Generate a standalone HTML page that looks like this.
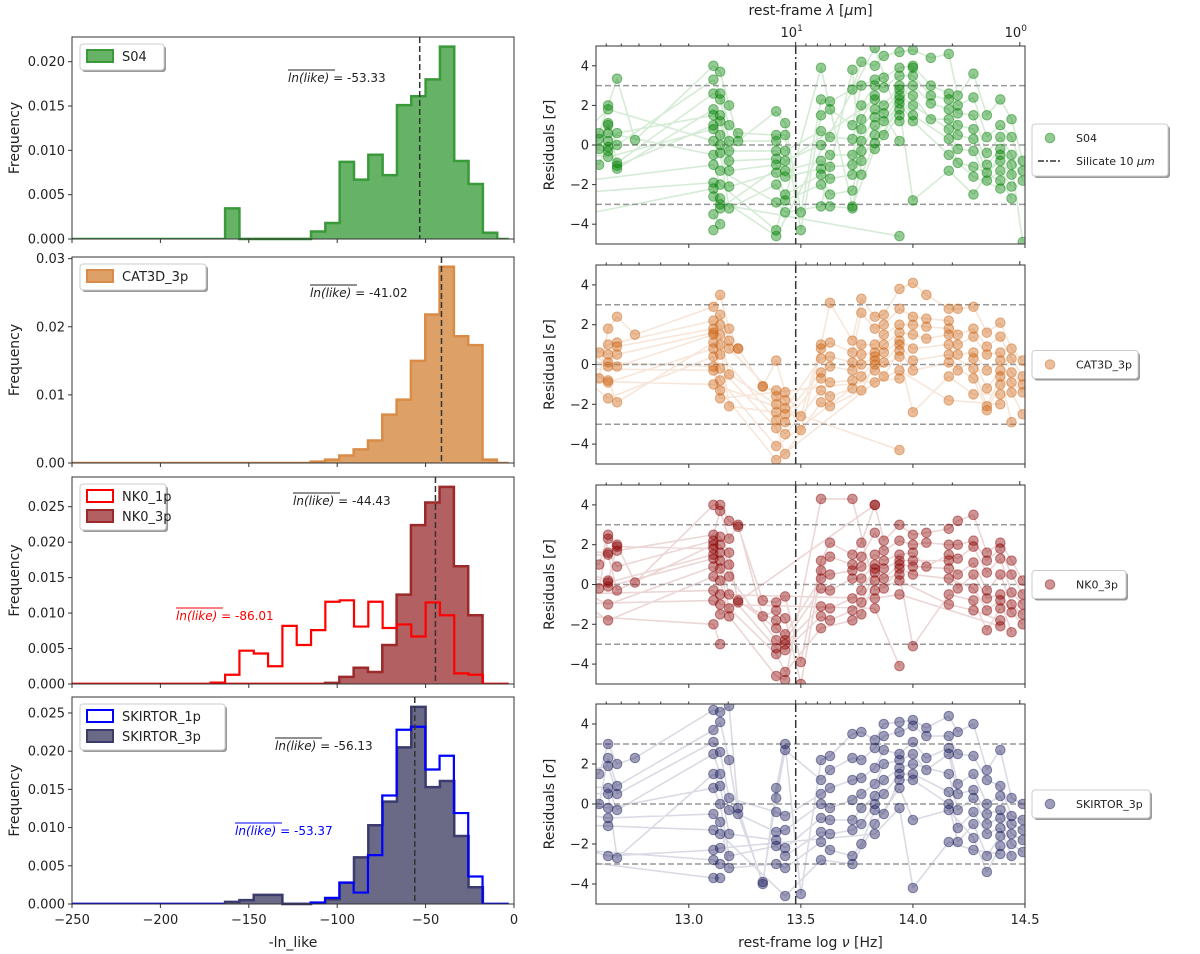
<!DOCTYPE html>
<html><head><meta charset="utf-8"><style>
html,body{margin:0;padding:0;background:#fff}
svg{display:block;font-family:"DejaVu Sans","Liberation Sans",sans-serif}
</style></head><body>
<svg id="fig" width="1200" height="954" viewBox="0 0 1200 954" xmlns="http://www.w3.org/2000/svg"></svg>
<script>
// ---------- LEFT: histogram data ----------
const binWidth = 8.1;
const s04Start = -163.4;
const s04Freq = [0.00345,0,0,0,0,0,0.00085,0.0018,0.0087,0.0067,0.0095,0.0072,0.0151,0.0161,0.018,0.0217,0.0088,0.0062,0.0007];
const cat3dStart = -115;
const cat3dFreq = [0.0002,0.0005,0.0011,0.002,0.0033,0.0071,0.0093,0.015,0.0218,0.0288,0.0186,0.0173,0.0005];
const nk03Start = -106.9;
const nk03Freq = [0.00015,0.001,0.0023,0.0017,0.0055,0.0126,0.0224,0.0256,0.0278,0.0166,0.0097];
const nk01Start = -171.5;
const nk01Freq = [0.0002,0.0013,0.0047,0.0043,0.0025,0.0082,0.0055,0.0076,0.0116,0.0118,0.0081,0.0116,0.0079,0.0084,0.0067,0.0115,0.0097,0.0015,0.0013];
const sk3Start = -163.4;
const sk3Freq = [0.00027,0.0005,0.0012,0.0012,0,0,0.0001,0.0006,0.0028,0.0061,0.0103,0.0134,0.0205,0.0258,0.0153,0.0161,0.0089,0.0022];
const sk1Start = -115;
const sk1Freq = [0.0002,0.0008,0.0028,0.0015,0.0064,0.0142,0.0228,0.0232,0.0176,0.0194,0.0119,0.0036];
const meanValues = [-53.33,-41.02,-44.43,-56.13];
const xTicksLeft = [-250,-200,-150,-100,-50,0];
const yTicksP1 = [0,0.005,0.01,0.015,0.02];
const yTicksP2 = [0,0.01,0.02,0.03];
const yTicksP3 = [0,0.005,0.01,0.015,0.02,0.025];
const yTicksP4 = [0,0.005,0.01,0.015,0.02,0.025];

// ---------- RIGHT: residual data (bands in log nu, residual lists per band) ----------
const bandsS04 = [12.4,12.6,12.64,12.68,12.76,13.11,13.14,13.18,13.22,13.39,13.43,13.5,13.59,13.63,13.73,13.77,13.83,13.87,13.94,14.0,14.08,14.16,14.2,14.27,14.33,14.39,14.44,14.49];
const resS04 = [[1.5,1.2,0.9,0.5,0.2,0,-0.3,-0.8,-1.3,-2,-2.5,-3.8],[0.6,-0.2,0.3,-1.0],[2.0,1.1,1.0,0.2,-0.1,-0.3,-0.6,1.8,0.6],[3.35,0,-0.9,-1.2,0.6,-1.05],[0.25],
[4.0,3.3,2.6,1.8,1.5,1.0,0.8,0.2,-0.5,-1.0,-1.9,-2.2,-2.6,-3.5,-4.3],[3.7,2.6,2.3,1.5,1.2,0.5,0,-0.4,-1.3,-2.0,-2.7,-3.2,-3.0,-4.0],[2.0,1.0,0.2,-0.3,-0.8,-1.3,-2.1,-3.2],[0.2,0.6],
[1.7,0.5,0.2,-0.3,-0.7,-1.0,-1.4,-2.0,-2.9,-4.3,-4.6],[1.1,0.5,-0.3,-0.8,-1.3,-1.6,-2.5,-2.8,-3.4],[-3.4,-4.3],
[2.3,1.5,0.7,0,-0.8,-1.2,-1.5,-2.0,-3.1,3.9],[2.2,1.8,0.4,-0.5,-1.1,-1.7,-2.5,-3.1],[2.8,1.0,0.3,-0.5,-1.0,-1.5,-2.3,-3.2,3.8,-3.1],[4.2,3.0,2.0,1.3,0.8,0.2,-0.3,-0.8,-1.5],
[4.0,3.3,3.0,2.5,1.8,1.4,1.0,0.5,0.1,-0.2,4.9,2.3],[4.5,3.4,2.9,2.0,1.6,1.2,0.5],[4.7,3.9,3.5,3.0,2.8,2.5,2.3,2.1,1.8,1.5,1.2,0.2,-4.6],[4.8,4.0,3.5,3.0,2.5,2.0,1.5,1.2,-2.8,3.9],
[4.4,3.0,2.5,2.1,1.3],[4.6,2.6,2.3,1.8,1.3,0.8,0.3,-0.5,-1.3],[2.5,2.0,1.6,1.0,0.5,-0.2,-0.9],[3.6,2.4,1.5,0.8,0.3,-0.3,-1.1,-1.6,-2.5],[1.5,0.4,-0.4,-1.0,-1.4,-1.8],
[2.3,1.0,0.4,-0.2,-0.8,-1.3,-1.8,-2.2,-0.5],[1.3,0.4,-0.5,-1.0,-1.5,-2.1,-2.7],[-0.8,-1.3,-1.8,-4.9]];

const bandsCAT = [12.4,12.6,12.64,12.68,12.76,13.11,13.14,13.18,13.22,13.33,13.39,13.43,13.5,13.59,13.63,13.73,13.77,13.83,13.87,13.94,14.0,14.06,14.16,14.2,14.27,14.33,14.39,14.44,14.49];
const resCAT = [[2.2,1.8,1.5,1.2,1.0,0.8,0.7,0.5,0.2,-0.2,-0.8,-1.5],[-0.7,0.6],[1.8,1.0,0.5,0.1,-0.1,-0.8,-0.9,-1.7],[2.4,1.1,0.9,0.5,-0.1,-1.9],[1.5],
[2.9,2.2,1.8,1.6,1.5,1.1,0.8,0.4,-0.1,-0.3,-1.0],[3.5,2.5,2.0,1.5,1.0,0.5,-0.2,-0.8,-1.3,-1.7],[1.8,1.2,0.8,-0.5,-2.1],[0.8,0.8],[-1.1,-1.1],
[0.2,-1.3,-1.6,-2.0,-2.4,-2.8,-3.2,-4.1,-4.8],[-1.4,-1.8,-2.2,-2.5,-2.9,-3.5,-4.5],[-2.6,-3.3],
[1.0,0.8,0.3,-0.4,-0.7,-1.3,-1.9],[3.1,1.1,0.4,-0.1,-0.9,-1.6,-2.1],[1.2,0.6,0.1,-0.3,-0.8,-1.2],[3.3,2.6,1.0,0.5,0,-0.6,-1.3],
[2.4,1.8,1.0,0.6,0.4,0.2,0,-0.3,-0.9],[2.5,2.0,1.5,1.0,0.6,0.1,-0.6],[3.8,2.8,2.0,1.6,1.2,1.0,0.7,0.4,-0.3,-0.7,-4.3],[4.1,2.4,2.0,1.5,0.8,0.2,-0.3,-2.4],
[3.5,2.3,1.9,1.3],[2.8,2.2,1.8,1.5,1.0,0.5,0.1,-0.6,-1.8],[2.8,1.5,1.0,0.5,-0.3],[2.9,1.8,1.4,0.6,0.3,-0.2,-0.7,-1.5],[1.6,0.9,0.5,-0.3,-1.2,-2.1,-2.3],
[2.1,1.4,0.6,0.2,-0.3,-0.6,-1.0,-1.5,-2.0],[0.8,0.3,-0.4,-0.9,-1.4,-2.9],[0.2,-0.6,-1.0,-1.4,-2.5]];

const bandsNK0 = [12.4,12.6,12.64,12.68,12.76,13.11,13.14,13.18,13.22,13.33,13.39,13.43,13.5,13.59,13.63,13.73,13.77,13.83,13.87,13.94,14.0,14.06,14.16,14.2,14.27,14.33,14.39,14.44,14.49];
const resNK0 = [[2.5,2.0,1.7,1.4,1.2,0.9,0.6,0.3,0,-0.5,-1.0,-1.5],[-0.2,1.0],[2.3,2.5,1.6,1.5,0.2,0.1,-0.1,-1.0,-1.8],[2.0,1.7,0.9,-0.3,1.9],[0.1],
[4.0,2.5,2.2,2.0,1.8,1.5,1.3,0.9,0.4,-0.3,-0.8,-2.0],[4.0,3.7,2.4,2.0,1.6,1.2,0.8,0.2,-0.5,-1.0,-1.5,-3.0],[3.2,2.3,1.6,1.0,0.4,-0.5,-1.2,-1.6],[2.9,3.0,-0.9,-0.8],[-0.8,-1.6],
[-0.9,-1.3,-1.8,-2.2,-2.8,-3.2,-3.5,-4.6],[-0.6,-1.7,-2.5,-2.8,-3.0,-3.3,-4.4,-4.8],[-3.9,-5.0],
[1.2,0.7,0.3,-0.2,-1.1,-1.6,-2.2,4.3],[2.1,1.4,0.5,-0.3,-1.2,-1.8],[1.5,1.0,0.7,0.3,-0.7,-1.3,-1.8,4.3],[2.1,1.4,0.9,0.3,-0.3,-0.9,-1.5],
[4.0,2.6,1.5,1.0,0.8,0.6,0.2,-0.3,-0.7,-1.2,4.0],[2.2,1.7,1.2,0.8,0.3,-0.2],[3.0,2.2,1.5,1.2,1.0,0.8,0.5,0.2,-0.5,-4.1],[2.5,2.0,1.6,1.2,0.9,0.5,-3.1],
[2.6,2.1,0.9],[2.8,2.0,1.5,1.2,0.8,0.3,-0.5,-1.0],[3.2,2.0,1.3,0.5,-0.2],[3.5,2.2,1.9,1.1,0.5,-0.2,-0.8,-1.3],[1.6,1.2,0.6,-0.3,-0.7,-1.3,-2.3],
[2.1,1.8,1.3,0.5,-0.5,-0.8,-1.2,-1.8,-2.1],[1.2,0.5,-0.4,-1.0,-1.4,-2.4],[0.2,-0.5,-1.0,-1.5,-2.0]];

const bandsSK = [12.4,12.6,12.64,12.68,12.76,13.11,13.14,13.18,13.22,13.33,13.39,13.43,13.5,13.59,13.63,13.73,13.77,13.83,13.87,13.94,14.0,14.06,14.16,14.2,14.27,14.33,14.39,14.44,14.49];
const resSK = [[2.0,1.6,1.3,1.0,0.6,0.2,-0.3,-1.0,-1.8,-2.2,-2.7,-3.2],[1.5,0.0],[3.0,2.3,1.9,0.8,0.5,-0.2,-0.7,-1.1,-2.6],[2.0,0.9,0.5,-0.3,-2.7],[2.3],
[4.7,3.7,3.1,2.5,1.5,0.8,-0.5,-1.3,-2.3,-2.8,-3.7],[4.6,4.1,2.6,1.5,0.9,0.0,-0.9,-1.5,-2.2,-3.0,-3.7],[4.9,2.2,0.3,-0.3,-1.5,-2.6,-3.2],[-0.2,-0.5],[-4.0,-3.9],
[0.8,0.3,-0.4,-1.4,-1.8,-2.1,-3.0],[3.0,2.7,-0.6,-1.3,-2.2,-2.6,-3.2,-4.6],[-4.5],
[2.2,1.2,0.5,0,-0.7,-1.4,-1.9,-2.8],[2.4,1.7,0.8,-0.2,-0.8,-1.5,-2.3],[3.5,2.3,1.2,0.2,-0.8,-1.3,-2.6,-3.0],[3.6,2.2,1.3,0.5,-0.2,-1.0,-2.0],
[3.2,2.8,1.8,1.0,0.4,0.0,-0.3,-1.0,-1.5],[4.0,3.4,2.7,2.0,1.2,0.5,-0.5],[4.1,3.6,2.5,2.2,1.8,1.5,1.2,0.8,-0.2],[4.2,3.9,3.1,2.5,2.0,1.5,1.2,-0.8,-4.2],
[3.8,3.4,2.3,1.7],[4.4,3.4,2.8,2.5,1.5,0.6,0,-0.3,-1.9],[3.6,2.5,1.0,0.5,-0.3,-1.2,-1.9],[4.0,2.4,1.5,0.7,0.3,-0.4,-1.0,-1.7,-2.3],[1.7,1.2,0.0,-0.5,-1.0,-1.5,-2.6,-3.4],
[2.7,0.9,0.4,-0.3,-0.7,-1.2,-1.6,-2.1,-2.5],[0.3,-0.6,-1.0,-1.5,-2.0,-2.6],[0,-0.8,-1.3,-1.8,-2.4]];

const xTicksRight = [13.0,13.5,14.0,14.5];
const yTicksRight = [-4,-2,0,2,4];
const hLines = [-3,0,3];
const silicateLogNu = 13.477;

// ---------- helpers ----------
const NS = "http://www.w3.org/2000/svg";
const svg = document.getElementById('fig');
function mk(tag, attrs, parent){
  const e = document.createElementNS(NS, tag);
  for (const k in attrs) e.setAttribute(k, attrs[k]);
  (parent||svg).appendChild(e);
  return e;
}
function txt(s, attrs, parent){ const t = mk('text', attrs, parent); t.textContent = s; return t; }

const LX0 = 72, LX1 = 514;
const leftPanels = [[37,239],[257,463],[477,684],[697,904]];
const RX0 = 596, RX1 = 1025;
const rightPanels = [[46,244],[265,464],[485,684],[704,904]];
const xLeft = v => LX0 + (v + 250) / 250 * (LX1 - LX0);
const NU0 = 12.586, NU1 = 14.5;
const xRight = v => RX0 + (v - NU0) / (NU1 - NU0) * (RX1 - RX0);

// ---------- left histogram panels ----------
function histPath(start, freq, yS){
  let d = `M${xLeft(start)},${yS(0)}`;
  freq.forEach((f,i)=>{
    const a = xLeft(start + i*binWidth), b = xLeft(start + (i+1)*binWidth);
    d += ` L${a},${yS(f)} L${b},${yS(f)}`;
  });
  d += ` L${xLeft(start + freq.length*binWidth)},${yS(0)}`;
  return d;
}
const leftSpec = [
  {series:[{name:'S04',start:s04Start,freq:s04Freq,fill:'#66b266',stroke:'#3a9a3a',w:2.5}], ticks:yTicksP1, dec:3,
   ann:[{x:288,y:82,color:'#222',v:'-53.33'}], legend:{w:84,h:26}},
  {series:[{name:'CAT3D_3p',start:cat3dStart,freq:cat3dFreq,fill:'#dda167',stroke:'#d98c48',w:2.5}], ticks:yTicksP2, dec:2,
   ann:[{x:310,y:297,color:'#222',v:'-41.02'}], legend:{w:126,h:26}},
  {series:[{name:'NK0_3p',start:nk03Start,freq:nk03Freq,fill:'#b36063',stroke:'#9c2a2a',w:2.5},
           {name:'NK0_1p',start:nk01Start,freq:nk01Freq,fill:'none',stroke:'#ff0000',w:2.2}], ticks:yTicksP3, dec:3,
   ann:[{x:293,y:505,color:'#222',v:'-44.43'},{x:176,y:620,color:'#ff0000',v:'-86.01'}], legend:{w:86,h:46}},
  {series:[{name:'SKIRTOR_3p',start:sk3Start,freq:sk3Freq,fill:'#6a6a86',stroke:'#3b3b6e',w:2.5},
           {name:'SKIRTOR_1p',start:sk1Start,freq:sk1Freq,fill:'none',stroke:'#0000ff',w:2.2}], ticks:yTicksP4, dec:3,
   ann:[{x:275,y:750,color:'#222',v:'-56.13'},{x:235,y:835,color:'#0000ff',v:'-53.37'}], legend:{w:145,h:46}}
];
leftSpec.forEach((sp, pi)=>{
  const [t,b] = leftPanels[pi];
  let mx = 0; sp.series.forEach(s=>s.freq.forEach(f=>{ if(f>mx) mx=f; }));
  const ymax = mx*1.05;
  const yS = v => b - v/ymax*(b-t);
  const g = mk('g',{});
  
  
  sp.series.forEach(s=>{
    mk('line',{x1:LX0,y1:b-0.5,x2:xLeft(-3),y2:b-0.5,stroke:s.stroke,'stroke-width':1.5},g);
  });
  sp.series.forEach(s=>{
    const p = mk('path',{d:histPath(s.start,s.freq,yS), fill:s.fill, stroke:s.stroke,'stroke-width':s.w,'stroke-linejoin':'miter'},g);
    
    
  });
  const mxp = xLeft(meanValues[pi]);
  const ml = mk('line',{x1:mxp,y1:t,x2:mxp,y2:b,stroke:'#333','stroke-width':1.5,'stroke-dasharray':'6,3'},g);
  
  
  mk('rect',{x:LX0,y:t,width:LX1-LX0,height:b-t,fill:'none',stroke:'#333','stroke-width':1},g);
  sp.ticks.forEach(v=>{
    const y = yS(v);
    mk('line',{x1:LX0-4,y1:y,x2:LX0,y2:y,stroke:'#333'},g);
    const lab = txt(v.toFixed(sp.dec),{x:LX0-7,y:y+4.5,'text-anchor':'end','font-size':13,fill:'#222'},g);
    
    
  });
  xTicksLeft.forEach(v=>{
    const x = xLeft(v);
    mk('line',{x1:x,y1:b,x2:x,y2:b+4,stroke:'#333'},g);
    if (pi===3){
      const lab = txt(v<0?'\u2212'+Math.abs(v):String(v),{x:x,y:b+20,'text-anchor':'middle','font-size':13,fill:'#222'},g);
      
      
    }
  });
  const yl = txt('Frequency',{x:0,y:0,transform:`translate(19,${(t+b)/2}) rotate(-90)`,'text-anchor':'middle','font-size':14,fill:'#222'},g);
  
  
  sp.ann.forEach(a=>{
    const tt = txt('',{x:a.x,y:a.y,'font-size':12,fill:a.color},g);
    
    
    const s1 = mk('tspan',{'font-style':'italic'},tt); s1.textContent='ln(like)';
    const s2 = mk('tspan',{},tt); s2.textContent=' = '+a.v;
    mk('line',{x1:a.x,y1:a.y-12,x2:a.x+47,y2:a.y-12,stroke:a.color,'stroke-width':0.9},g);
  });
  const lg = mk('g',{},g);
  
  
  const lx = LX0+8, ly = t+7;
  mk('rect',{x:lx+2,y:ly+2,width:sp.legend.w,height:sp.legend.h,fill:'#999',rx:3},lg);
  mk('rect',{x:lx,y:ly,width:sp.legend.w,height:sp.legend.h,fill:'#fff',stroke:'#ccc',rx:3},lg);
  const order = sp.series.length===2 ? [sp.series[1],sp.series[0]] : sp.series;
  order.forEach((s,i)=>{
    const yy = ly+6+i*20;
    const sw = mk('rect',{x:lx+7,y:yy,width:26,height:12,fill:s.fill,stroke:s.stroke,'stroke-width':2},lg);
    
    
    const lt = txt(s.name,{x:lx+42,y:yy+11,'font-size':13,fill:'#222'},lg);
    
    
  });
});
const xl = txt('-ln_like',{x:(LX0+LX1)/2,y:947,'text-anchor':'middle','font-size':14,fill:'#222'});



// ---------- right residual panels ----------
const rightSpec = [
  {name:'S04',bands:bandsS04,res:resS04,col:'0,128,0'},
  {name:'CAT3D_3p',bands:bandsCAT,res:resCAT,col:'205,100,20'},
  {name:'NK0_3p',bands:bandsNK0,res:resNK0,col:'139,0,0'},
  {name:'SKIRTOR_3p',bands:bandsSK,res:resSK,col:'25,25,90'}
];
const defs = mk('defs',{});
rightSpec.forEach((sp,pi)=>{
  const [t,b] = rightPanels[pi];
  const yS = v => b - (v+5)/10*(b-t);
  const cp = mk('clipPath',{id:'clip'+pi},defs);
  mk('rect',{x:RX0,y:t,width:RX1-RX0,height:b-t},cp);
  const g = mk('g',{});
  
  
  const inner = mk('g',{'clip-path':`url(#clip${pi})`},g);
  let d = '';
  for (let j=0;j<sp.bands.length-1;j++){
    sp.res[j].forEach((v,i)=>{
      for (let k=j+1;k<sp.bands.length;k++){
        if (i < sp.res[k].length){
          d += `M${xRight(sp.bands[j])},${yS(v)} L${xRight(sp.bands[k])},${yS(sp.res[k][i])} `;
          break;
        }
      }
    });
  }
  const lines = mk('path',{d:d,fill:'none',stroke:`rgba(${sp.col},0.16)`,'stroke-width':1.6},inner);
  
  
  hLines.forEach(h=>{
    mk('line',{x1:RX0,y1:yS(h),x2:RX1,y2:yS(h),stroke:'#999','stroke-width':1.5,'stroke-dasharray':'6,3'},inner);
  });
  sp.bands.forEach((bx,j)=>{
    sp.res[j].forEach(v=>{
      const c = mk('circle',{cx:xRight(bx),cy:yS(v),r:4.8,fill:`rgba(${sp.col},0.42)`,stroke:`rgba(${sp.col},0.45)`,'stroke-width':1},inner);
      
      
    });
  });
  const sx = xRight(silicateLogNu);
  const sl = mk('line',{x1:sx,y1:t,x2:sx,y2:b,stroke:'#333','stroke-width':1.5,'stroke-dasharray':'8,3,2,3'},g);
  
  
  mk('rect',{x:RX0,y:t,width:RX1-RX0,height:b-t,fill:'none',stroke:'#333','stroke-width':1},g);
  yTicksRight.forEach(v=>{
    const y = yS(v);
    mk('line',{x1:RX0-4,y1:y,x2:RX0,y2:y,stroke:'#333'},g);
    const lab = txt(v<0?'\u2212'+Math.abs(v):String(v),{x:RX0-7,y:y+4.5,'text-anchor':'end','font-size':13,fill:'#222'},g);
    
    
  });
  xTicksRight.forEach(v=>{
    const x = xRight(v);
    mk('line',{x1:x,y1:b,x2:x,y2:b+4,stroke:'#333'},g);
    if (pi===3){
      const lab = txt(v.toFixed(1),{x:x,y:b+20,'text-anchor':'middle','font-size':13,fill:'#222'},g);
      
      
    }
  });
  [80,70,60,50,40,30,20,10,9,8,7,6,5,4,3,2,1].forEach(lam=>{
    const lnu = Math.log10(2.998e14/lam);
    if (lnu < NU0 || lnu > NU1+0.001) return;
    const x = xRight(lnu);
    const major = (lam===10||lam===1);
    mk('line',{x1:x,y1:t,x2:x,y2:t-(major?4:2.5),stroke:'#333'},g);
  });
  const yl = txt('Residuals [',{x:0,y:0,transform:`translate(554,${(t+b)/2}) rotate(-90)`,'text-anchor':'middle','font-size':14,fill:'#222'},g);
  const sg = mk('tspan',{'font-style':'italic'},yl); sg.textContent='\u03c3';
  const cl = mk('tspan',{},yl); cl.textContent=']';
  
  
  const lg = mk('g',{},g);
  
  
  const isFirst = pi===0;
  const lw = isFirst?136:(sp.name.length>8?118:(sp.name.length>6?106:94));
  const lh = isFirst?52:28;
  const lx = 1032, ly = isFirst?124:((t+b)/2-14);
  mk('rect',{x:lx+2,y:ly+2,width:lw,height:lh,fill:'#999',rx:3},lg);
  mk('rect',{x:lx,y:ly,width:lw,height:lh,fill:'#fff',stroke:'#ccc',rx:3},lg);
  mk('circle',{cx:lx+18,cy:ly+14,r:4.8,fill:`rgba(${sp.col},0.42)`,stroke:`rgba(${sp.col},0.45)`},lg);
  const lt = txt(sp.name,{x:lx+44,y:ly+18,'font-size':11,fill:'#222'},lg);
  
  
  if (isFirst){
    mk('line',{x1:lx+6,y1:ly+37,x2:lx+30,y2:ly+37,stroke:'#333','stroke-width':1.5,'stroke-dasharray':'6,2,2,2'},lg);
    const l2 = txt('Silicate 10 ',{x:lx+44,y:ly+41,'font-size':11,fill:'#222'},lg);
    const mu = mk('tspan',{'font-style':'italic'},l2); mu.textContent='\u03bc';
    const m2 = mk('tspan',{'font-style':'italic'},l2); m2.textContent='m';
    
    
  }
});
const t1 = txt('10',{x:xRight(Math.log10(2.998e14/10))-4,y:37,'text-anchor':'middle','font-size':13,fill:'#222'});
mk('tspan',{dy:-6,'font-size':9},t1).textContent='1';


const t0 = txt('10',{x:xRight(Math.log10(2.998e14/1))-4,y:37,'text-anchor':'middle','font-size':13,fill:'#222'});
mk('tspan',{dy:-6,'font-size':9},t0).textContent='0';


const tt = txt('rest-frame ',{x:(RX0+RX1)/2,y:15,'text-anchor':'middle','font-size':14,fill:'#222'});
mk('tspan',{'font-style':'italic'},tt).textContent='\u03bb';
mk('tspan',{},tt).textContent=' [';
mk('tspan',{'font-style':'italic'},tt).textContent='\u03bc';
mk('tspan',{},tt).textContent='m]';


const bt = txt('rest-frame log ',{x:(RX0+RX1)/2,y:947,'text-anchor':'middle','font-size':14,fill:'#222'});
mk('tspan',{'font-style':'italic'},bt).textContent='\u03bd';
mk('tspan',{},bt).textContent=' [Hz]';


</script>
</body></html>
